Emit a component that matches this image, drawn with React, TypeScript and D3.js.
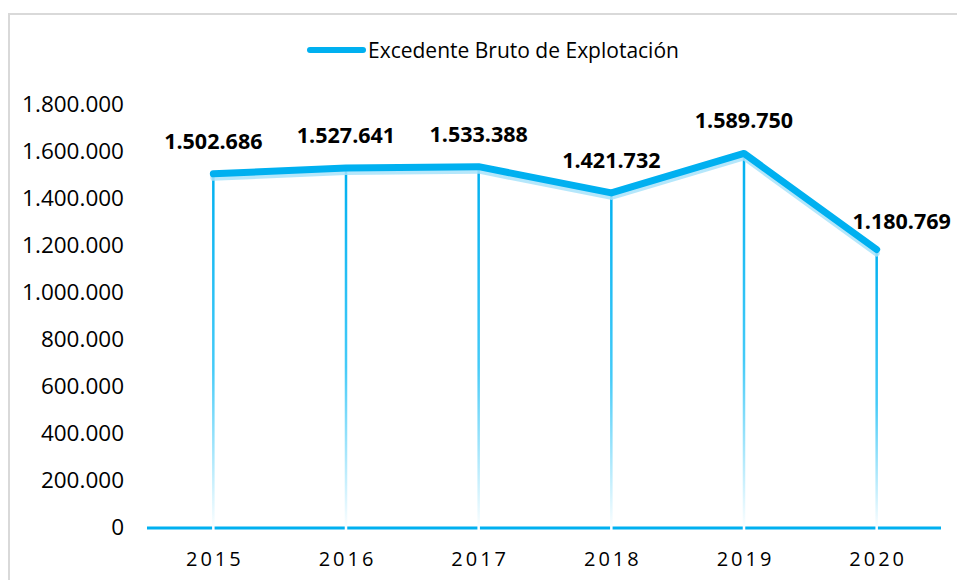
import React from "react";
import * as d3 from "d3";

const years = ["2015", "2016", "2017", "2018", "2019", "2020"];
const values = [1502686, 1527641, 1533388, 1421732, 1589750, 1180769];
const yTicks = [0, 200000, 400000, 600000, 800000, 1000000, 1200000, 1400000, 1600000, 1800000];
const seriesName = "Excedente Bruto de Explotación";

const W = 957;
const H = 580;
const FONT = "'Open Sans', 'Noto Sans', sans-serif";
const BLUE = "#00b0f0";

const fmt = (v: number) => {
  const s = Math.round(v).toString();
  return s.replace(/\B(?=(\d{3})+(?!\d))/g, ".");
};

export default function App() {
  const x = d3.scaleBand<string>().domain(years).range([147, 943]);
  const y = d3.scaleLinear().domain([0, 1800000]).range([527, 104]);
  const cx = (d: string) => (x(d) as number) + x.bandwidth() / 2;
  const line = d3
    .line<number>()
    .x((_, i) => cx(years[i]))
    .y((v) => y(v));
  const shadow = d3
    .line<number>()
    .x((_, i) => cx(years[i]))
    .y((v) => y(v) + 4);

  const last = values.length - 1;

  return (
    <svg
      width={W}
      height={H}
      style={{ position: "absolute", left: 0, top: 0, background: "#fff" }}
    >
      <defs>
        <linearGradient id="drop" x1="0" y1="0" x2="0" y2="1">
          <stop offset="0%" stopColor={BLUE} />
          <stop offset="55%" stopColor="#45cbf8" />
          <stop offset="100%" stopColor="#ffffff" />
        </linearGradient>
      </defs>
      <rect x={0} y={0} width={W} height={H} fill="#fff" />
      <rect x={9} y={14} width={W + 20} height={H} fill="none" stroke="#d9d9d9" strokeWidth={2} />

      {/* legend */}
      <line x1={310} x2={363} y1={50} y2={50} stroke={BLUE} strokeWidth={6} strokeLinecap="round" />
      <text x={368} y={57.5} fontFamily={FONT} fontSize={21} fill="#000">
        {seriesName}
      </text>

      {/* y tick labels */}
      {yTicks.map((t) => (
        <text
          key={t}
          x={124}
          y={y(t) + 8}
          textAnchor="end"
          fontFamily={FONT}
          fontSize={22.5}
          fill="#000"
        >
          {fmt(t)}
        </text>
      ))}

      {/* x axis line */}
      <line x1={147} x2={941} y1={y(0) + 1} y2={y(0) + 1} stroke={BLUE} strokeWidth={3} />

      {/* drop lines */}
      {values.map((v, i) => (
        <rect
          key={years[i]}
          x={cx(years[i]) - 1.25}
          y={y(v)}
          width={2.5}
          height={y(0) + 3 - y(v)}
          fill="url(#drop)"
        />
      ))}

      {/* shadow */}
      <path
        d={shadow(values) || ""}
        fill="none"
        stroke="#a8e3fa"
        strokeOpacity={0.85}
        strokeWidth={6}
        strokeLinecap="round"
        strokeLinejoin="round"
      />
      {/* main line */}
      <path
        d={line(values) || ""}
        fill="none"
        stroke={BLUE}
        strokeWidth={7}
        strokeLinecap="round"
        strokeLinejoin="round"
      />

      {/* data labels */}
      {values.map((v, i) => (
        <text
          key={"l" + years[i]}
          x={cx(years[i]) + (i === last ? 25 : 0)}
          y={y(v) - (i === last ? 21 : 25)}
          textAnchor="middle"
          fontFamily={FONT}
          fontWeight={700}
          fontSize={21.5}
          fill="#000"
        >
          {fmt(v)}
        </text>
      ))}

      {/* x labels */}
      {years.map((d) => (
        <text
          key={"x" + d}
          x={cx(d) + 1.5}
          y={566}
          textAnchor="middle"
          fontFamily={FONT}
          fontSize={20}
          letterSpacing={3}
          fill="#000"
        >
          {d}
        </text>
      ))}
    </svg>
  );
}
